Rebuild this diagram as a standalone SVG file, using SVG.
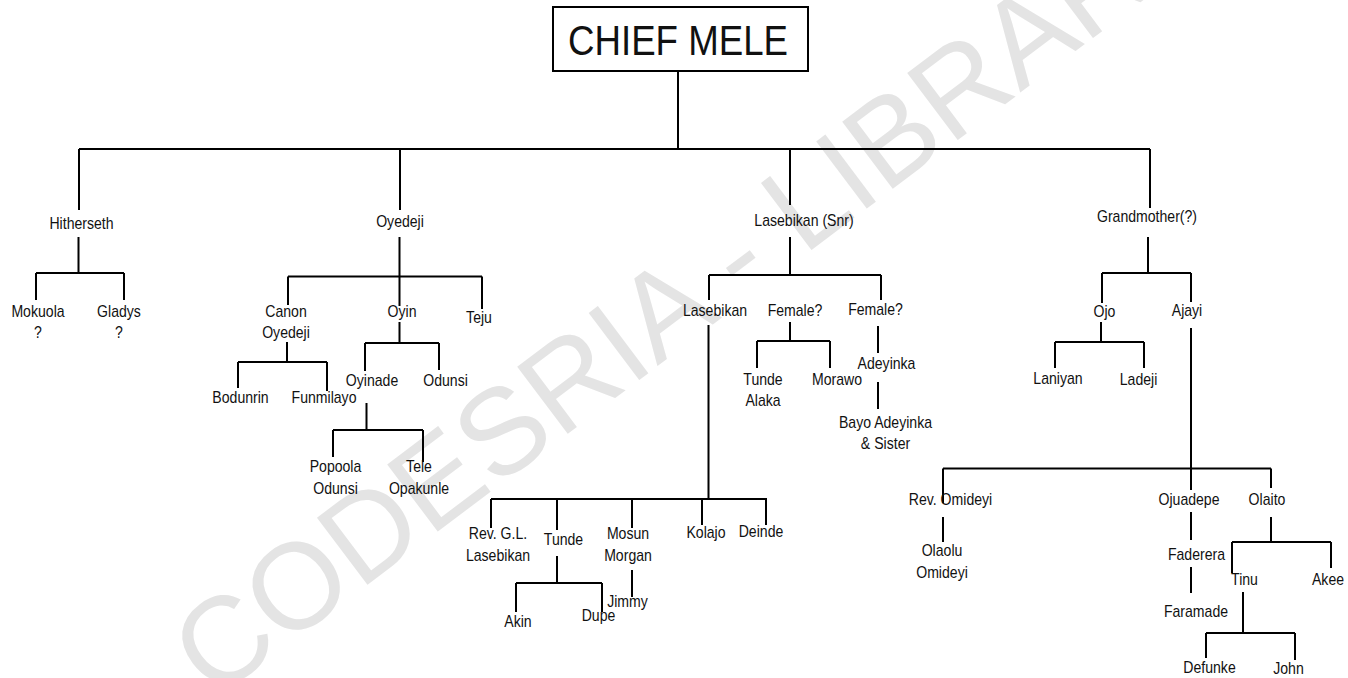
<svg xmlns="http://www.w3.org/2000/svg" width="1348" height="678" viewBox="0 0 1348 678">
<style>
.wm{font-family:"Liberation Sans",Arial,sans-serif;font-size:122px;fill:#e4e4e4;}
.lbl{font-family:"Liberation Sans",Arial,sans-serif;font-size:16px;fill:#111;text-anchor:middle;}
.title{font-family:"Liberation Sans",Arial,sans-serif;font-size:42px;fill:#111;text-anchor:middle;}
.ln{fill:none;stroke:#000;stroke-width:2;}
.box{fill:#fff;stroke:#000;stroke-width:2;}
</style>
<rect width="1348" height="678" fill="#fff"/>
<text class="wm" transform="translate(716 322) rotate(-37)" text-anchor="middle">CODESRIA - LIBRARY</text>

<g id="connectors" class="ln">
<path d="M678 71V149M79 149H1150M79 149V210M400 149V210M790 149V205M1150 149V208"/>
<path d="M78.5 237V273M36 273H124M36 273V300M124 273V300"/>
<path d="M399.5 237V276.5M288 276.5H482M288 276.5V305M399.5 276.5V306M482 276.5V309"/>
<path d="M287 342V362M238 362H327M238 362V388M327 362V391"/>
<path d="M399.5 322V343M365 343H439M365 343V371M439 343V370"/>
<path d="M366.5 403V430M333 430H423M333 430V457M423 430V462"/>
<path d="M790 237V275M709 275H881M709 275V300M881 275V300"/>
<path d="M708.5 325V499M491 499H767M491 499V528M557 499V530M632 499V528M702 499V525M766 499V525"/>
<path d="M790 322V341M757 341H830M757 341V368M830 341V368"/>
<path d="M878 326V353M878 382V409"/>
<path d="M557 556V583M516 583H602M516 583V612M602 583V612"/>
<path d="M632 570V597"/>
<path d="M1148 237V273M1102 273H1191M1102 273V303M1191 273V302"/>
<path d="M1101 322V342M1055 342H1144M1055 342V368M1144 342V368"/>
<path d="M1191 328V468.5M943 468.5H1271M943 468.5V503M1191 468.5V490M1271 468.5V488"/>
<path d="M943 517V542"/>
<path d="M1191 512V540M1191 567V593"/>
<path d="M1271 517V542M1232 542H1331M1232 542V573M1331 542V568"/>
<path d="M1243 592V633M1206 633H1295M1206 633V658M1295 633V660"/>
</g>

<g id="chief-mele">
<rect class="box" x="553" y="7" width="255" height="64"/>
<text class="title" x="678" y="55" textLength="220" lengthAdjust="spacingAndGlyphs">CHIEF MELE</text>
</g>

<g id="hitherseth" transform="translate(81.5 229) scale(0.88 1)"><text class="lbl">Hitherseth</text></g>
<g id="oyedeji" transform="translate(400 227) scale(0.88 1)"><text class="lbl">Oyedeji</text></g>
<g id="lasebikan-snr" transform="translate(804 226) scale(0.88 1)"><text class="lbl">Lasebikan (Snr)</text></g>
<g id="grandmother" transform="translate(1147 222) scale(0.88 1)"><text class="lbl">Grandmother(?)</text></g>

<g id="mokuola" transform="translate(38 317) scale(0.88 1)"><text class="lbl">Mokuola</text><text class="lbl" y="21">?</text></g>
<g id="gladys" transform="translate(119 317) scale(0.88 1)"><text class="lbl">Gladys</text><text class="lbl" y="21">?</text></g>

<g id="canon-oyedeji" transform="translate(286 317) scale(0.88 1)"><text class="lbl">Canon</text><text class="lbl" y="21">Oyedeji</text></g>
<g id="oyin" transform="translate(402 317) scale(0.88 1)"><text class="lbl">Oyin</text></g>
<g id="teju" transform="translate(479 323) scale(0.88 1)"><text class="lbl">Teju</text></g>
<g id="bodunrin" transform="translate(240.5 403) scale(0.88 1)"><text class="lbl">Bodunrin</text></g>
<g id="funmilayo" transform="translate(324 403) scale(0.88 1)"><text class="lbl">Funmilayo</text></g>
<g id="oyinade" transform="translate(372 386) scale(0.88 1)"><text class="lbl">Oyinade</text></g>
<g id="odunsi" transform="translate(445.5 386) scale(0.88 1)"><text class="lbl">Odunsi</text></g>
<g id="popoola-odunsi" transform="translate(335.5 472) scale(0.88 1)"><text class="lbl">Popoola</text><text class="lbl" y="22">Odunsi</text></g>
<g id="tele-opakunle" transform="translate(419 472) scale(0.88 1)"><text class="lbl">Tele</text><text class="lbl" y="22">Opakunle</text></g>

<g id="lasebikan" transform="translate(715 316) scale(0.88 1)"><text class="lbl">Lasebikan</text></g>
<g id="female-1" transform="translate(795 316) scale(0.88 1)"><text class="lbl">Female?</text></g>
<g id="female-2" transform="translate(875.5 315) scale(0.88 1)"><text class="lbl">Female?</text></g>
<g id="tunde-alaka" transform="translate(763 385) scale(0.88 1)"><text class="lbl">Tunde</text><text class="lbl" y="21">Alaka</text></g>
<g id="morawo" transform="translate(837 385) scale(0.88 1)"><text class="lbl">Morawo</text></g>
<g id="adeyinka" transform="translate(886.5 369) scale(0.88 1)"><text class="lbl">Adeyinka</text></g>
<g id="bayo-adeyinka" transform="translate(885.5 428) scale(0.88 1)"><text class="lbl">Bayo Adeyinka</text><text class="lbl" y="21">&amp; Sister</text></g>

<g id="rev-gl-lasebikan" transform="translate(498 539) scale(0.88 1)"><text class="lbl">Rev. G.L.</text><text class="lbl" y="22">Lasebikan</text></g>
<g id="tunde" transform="translate(563.5 545) scale(0.88 1)"><text class="lbl">Tunde</text></g>
<g id="mosun-morgan" transform="translate(628 539) scale(0.88 1)"><text class="lbl">Mosun</text><text class="lbl" y="22">Morgan</text></g>
<g id="kolajo" transform="translate(706 538) scale(0.88 1)"><text class="lbl">Kolajo</text></g>
<g id="deinde" transform="translate(761 537) scale(0.88 1)"><text class="lbl">Deinde</text></g>
<g id="akin" transform="translate(518 627) scale(0.88 1)"><text class="lbl">Akin</text></g>
<g id="dupe" transform="translate(598.5 621) scale(0.88 1)"><text class="lbl">Dupe</text></g>
<g id="jimmy" transform="translate(627.5 607) scale(0.88 1)"><text class="lbl">Jimmy</text></g>

<g id="ojo" transform="translate(1104.5 317) scale(0.88 1)"><text class="lbl">Ojo</text></g>
<g id="ajayi" transform="translate(1187 316) scale(0.88 1)"><text class="lbl">Ajayi</text></g>
<g id="laniyan" transform="translate(1058 384) scale(0.88 1)"><text class="lbl">Laniyan</text></g>
<g id="ladeji" transform="translate(1138.5 385) scale(0.88 1)"><text class="lbl">Ladeji</text></g>
<g id="rev-omideyi" transform="translate(950.5 505) scale(0.88 1)"><text class="lbl">Rev. Omideyi</text></g>
<g id="ojuadepe" transform="translate(1189 505) scale(0.88 1)"><text class="lbl">Ojuadepe</text></g>
<g id="olaito" transform="translate(1267 505) scale(0.88 1)"><text class="lbl">Olaito</text></g>
<g id="olaolu-omideyi" transform="translate(942 556) scale(0.88 1)"><text class="lbl">Olaolu</text><text class="lbl" y="22">Omideyi</text></g>
<g id="faderera" transform="translate(1196.5 560) scale(0.88 1)"><text class="lbl">Faderera</text></g>
<g id="faramade" transform="translate(1196 617) scale(0.88 1)"><text class="lbl">Faramade</text></g>
<g id="tinu" transform="translate(1244.5 585) scale(0.88 1)"><text class="lbl">Tinu</text></g>
<g id="akee" transform="translate(1328 585) scale(0.88 1)"><text class="lbl">Akee</text></g>
<g id="defunke" transform="translate(1209.5 673) scale(0.88 1)"><text class="lbl">Defunke</text></g>
<g id="john" transform="translate(1288.5 674) scale(0.88 1)"><text class="lbl">John</text></g>
</svg>
